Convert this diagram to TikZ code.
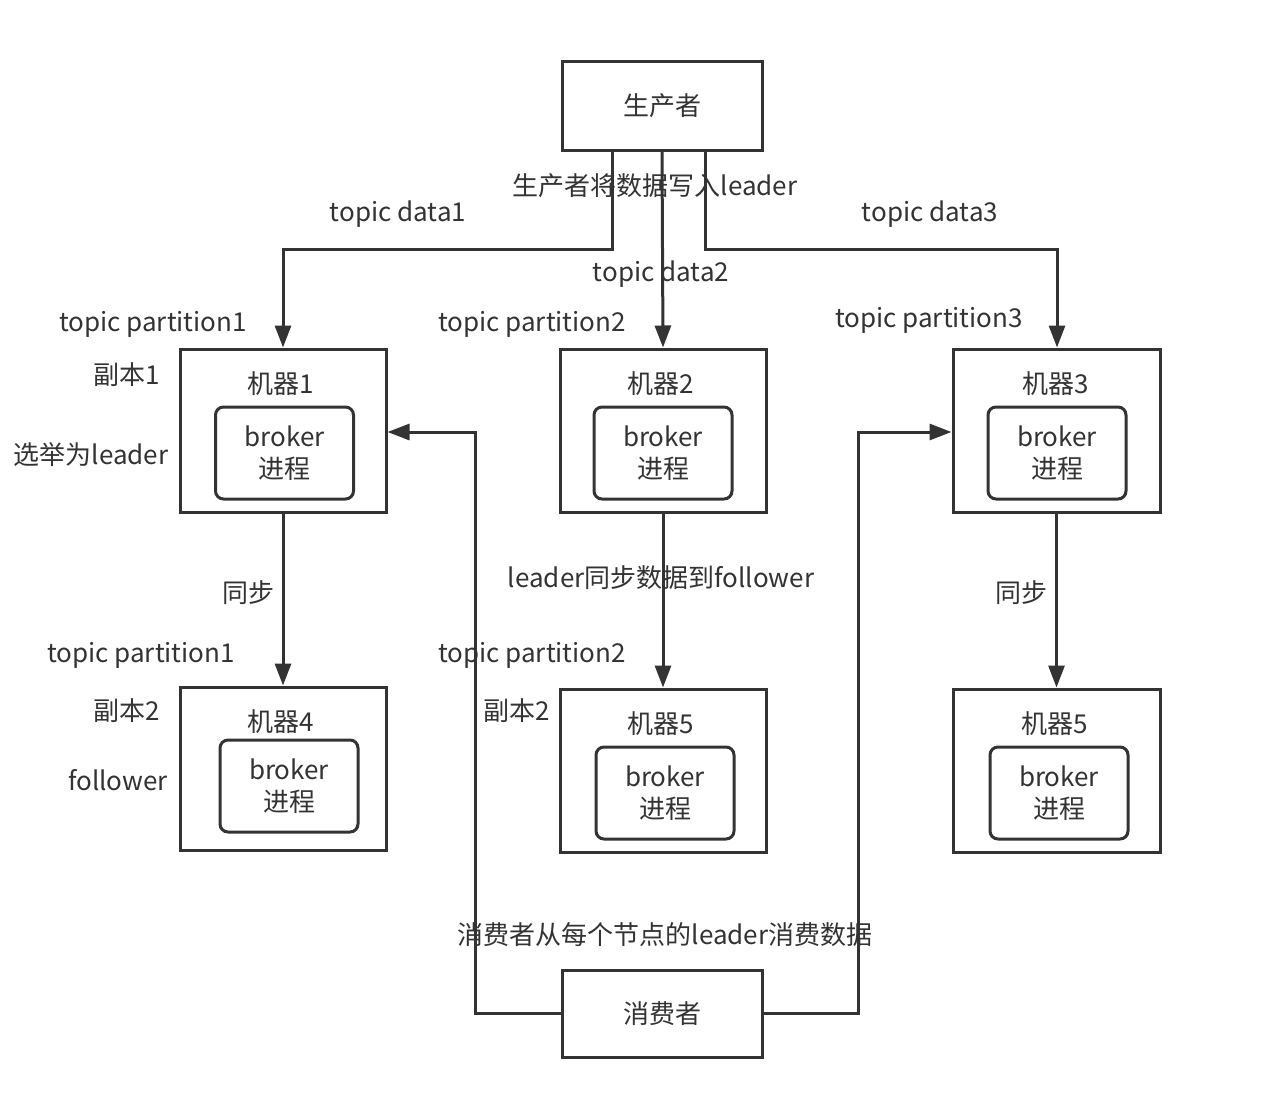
\documentclass[tikz,border=0pt]{standalone}
\usepackage{fontspec}
\setmainfont{Noto Sans CJK SC}
\usetikzlibrary{arrows.meta}
\definecolor{ink}{HTML}{333333}
\begin{document}
\begin{tikzpicture}[x=1pt,y=-1pt,
  font=\fontsize{26}{32}\selectfont,
  box/.style={draw=ink,line width=3pt,text=ink,inner sep=0pt},
  inbox/.style={draw=ink,line width=3pt,rounded corners=8pt,text=ink,inner sep=0pt,
     minimum width=138pt,minimum height=92pt,align=center},
  lbl/.style={text=ink,inner sep=0pt},
  arr/.style={draw=ink,line width=3pt,-{Triangle[length=22pt,width=16pt]}},
  ln/.style={draw=ink,line width=3pt}]
\useasboundingbox (0,0) rectangle (1276,1108);
% producer and consumer
\node[box,minimum width=200pt,minimum height=88pt] (prod) at (662,106) {生产者};
\node[box,minimum width=200pt,minimum height=87pt] (cons) at (662,1013.5) {消费者};
% machines row 1
\node[box,minimum width=206pt,minimum height=163pt] (m1) at (283,430.5) {};
\node[box,minimum width=206pt,minimum height=163pt] (m2) at (663,430.5) {};
\node[box,minimum width=207pt,minimum height=163pt] (m3) at (1056.5,430.5) {};
% machines row 2
\node[box,minimum width=206pt,minimum height=163pt] (m4) at (283,768.5) {};
\node[box,minimum width=206pt,minimum height=163pt] (m5) at (663,770.5) {};
\node[box,minimum width=207pt,minimum height=163pt] (m6) at (1056.5,770.5) {};
% titles
\node[lbl] (t1) at (281,384) {机器1};
\node[lbl] (t2) at (661,384) {机器2};
\node[lbl] (t3) at (1056,384) {机器3};
\node[lbl] (t4) at (281,722) {机器4};
\node[lbl] (t5) at (661,724) {机器5};
\node[lbl] (t6) at (1055,724) {机器5};
% inner broker boxes
\node[inbox] (i1) at (284.5,453) {broker\\进程};
\node[inbox] (i2) at (663,453) {broker\\进程};
\node[inbox] (i3) at (1057,453) {broker\\进程};
\node[inbox] (i4) at (289,786) {broker\\进程};
\node[inbox] (i5) at (665,793) {broker\\进程};
\node[inbox] (i6) at (1059,793) {broker\\进程};
% bend coordinates
\coordinate (b1) at (283,249);
\coordinate (b3) at (1057,249);
\coordinate (c1) at (475,432);
\coordinate (c2) at (858,432);
% producer connectors
\draw[arr] ([xshift=-50pt]prod.south) |- (b1) -- (b1 |- m1.north);
\draw[arr] (prod.south) -- (m2.north);
\draw[arr] ([xshift=43pt]prod.south) |- (b3) -- (b3 |- m3.north);
% sync connectors
\draw[arr] (m1.south) -- (m4.north);
\draw[arr] (m2.south) -- (m5.north);
\draw[arr] (m3.south) -- (m6.north);
% consumer connectors
\draw[arr] (cons.west) -| (c1) -- (c1 -| m1.east);
\draw[arr] (cons.east) -| (c2) -- (c2 -| m3.west);
% labels
\node[lbl] (l1) at (655,186) {生产者将数据写入leader};
\node[lbl] (l2) at (398,214) {topic data1};
\node[lbl] (l3) at (661,274) {topic data2};
\node[lbl] (l4) at (930,214) {topic data3};
\node[lbl] (l5) at (153,324) {topic partition1};
\node[lbl] (l6) at (532,324) {topic partition2};
\node[lbl] (l7) at (929,320) {topic partition3};
\node[lbl] (l8) at (127,375) {副本1};
\node[lbl] (l9) at (91,455) {选举为leader};
\node[lbl] (l10) at (248,593) {同步};
\node[lbl] (l11) at (661,578) {leader同步数据到follower};
\node[lbl] (l12) at (1021,593) {同步};
\node[lbl] (l13) at (141,655) {topic partition1};
\node[lbl] (l14) at (127,711) {副本2};
\node[lbl] (l15) at (118,780) {follower};
\node[lbl] (l16) at (532,655) {topic partition2};
\node[lbl] (l17) at (517,711) {副本2};
\node[lbl] (l18) at (665,935) {消费者从每个节点的leader消费数据};
\end{tikzpicture}
\end{document}
